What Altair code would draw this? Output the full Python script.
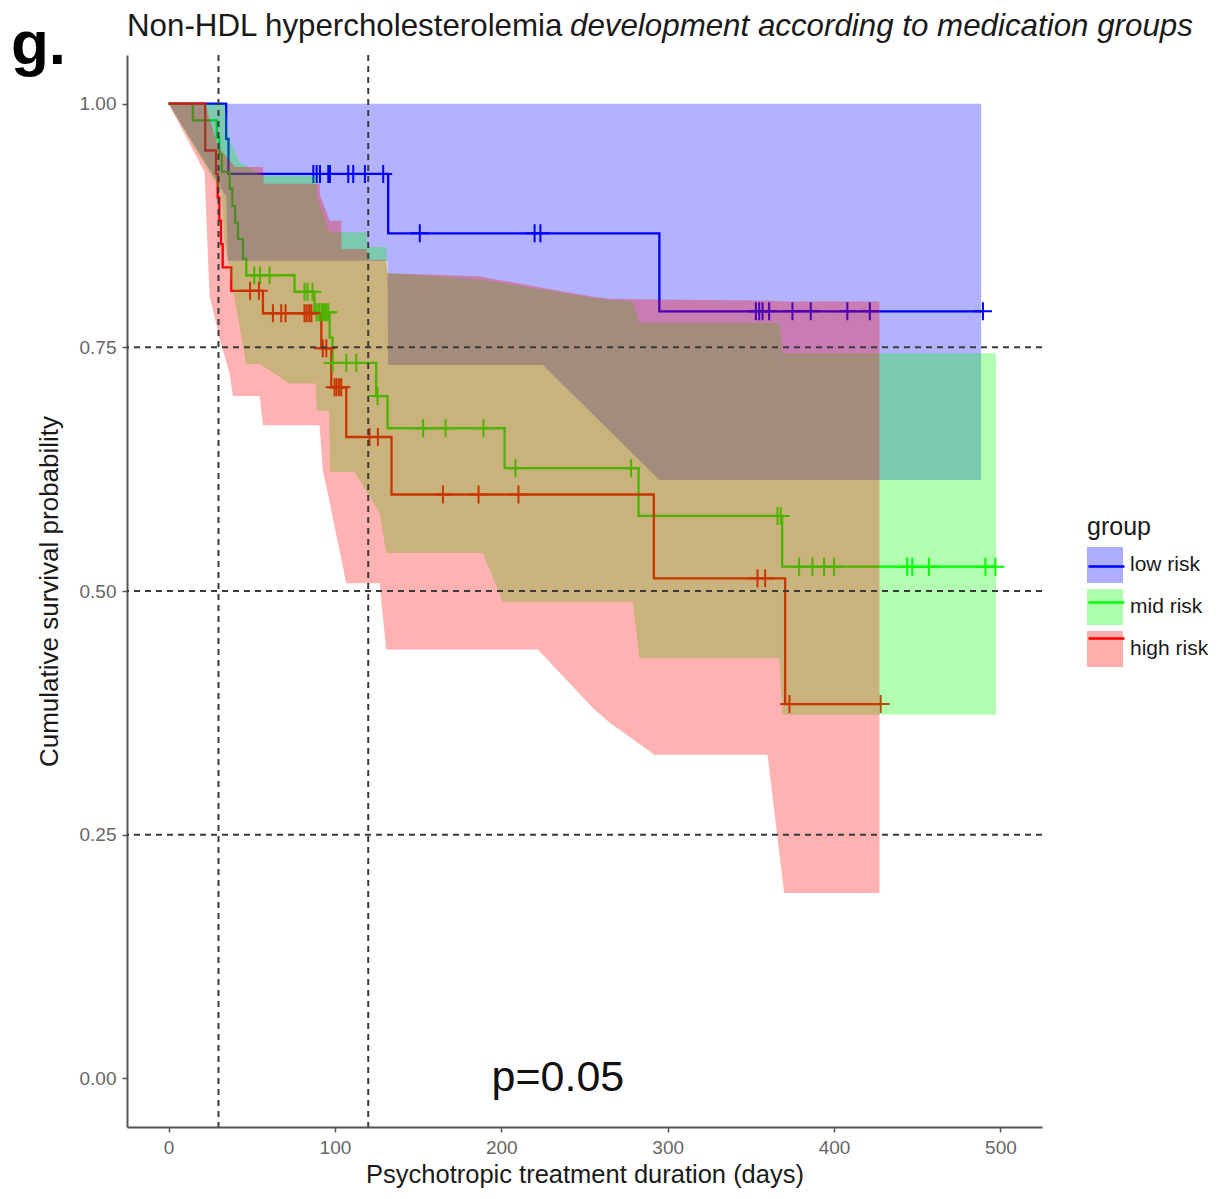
import altair as alt
import pandas as pd

FONT = "Liberation Sans"
GROUPS = ["low risk", "mid risk", "high risk"]
COLORS = ["#0000FF", "#00FF00", "#FF0000"]

X_TICKS = [0, 100, 200, 300, 400, 500]
Y_TICKS = [0.0, 0.25, 0.5, 0.75, 1.0]
V_REF = [30, 120]
H_REF = [0.25, 0.5, 0.75]

# ---- Kaplan-Meier step curves (time of event, survival after it) ----
low_t = [0, 34.6, 36, 132, 295]
low_s = [1.0, 0.964, 0.928, 0.867, 0.787]
low_end = 489.5
low_cens = [87, 89, 91, 96, 97, 108, 111, 118, 129, 151, 220, 223.5,
            353, 355, 357, 361, 375, 386, 408, 421.5, 489.5]

mid_t = [0, 14.6, 29, 30.5, 32, 36.7, 38.3, 40, 41.7, 44.7, 46.7, 75.7,
         87.7, 96.8, 98.5, 124.8, 131.6, 202, 282.5, 368.8]
mid_s = [1.0, 0.983, 0.965, 0.948, 0.930, 0.913, 0.895, 0.878, 0.861,
         0.841, 0.824, 0.807, 0.786, 0.760, 0.734, 0.700, 0.667, 0.626,
         0.577, 0.525]
mid_end = 497
mid_cens = [51.5, 55, 60.7, 81.7, 83.5, 86.5, 89, 90.5, 92, 93, 94, 95, 96,
            98.6, 106.8, 112.8, 125.6, 153, 166.5, 189.3, 208.5, 278, 366,
            368, 379, 387, 394, 400, 444, 447, 457, 491, 497]

high_t = [0, 22, 28.5, 29.5, 30.5, 31.5, 32.5, 37.7, 56.7, 91.8, 97.8,
          106.8, 134, 291.7, 370.6]
high_s = [1.0, 0.952, 0.928, 0.904, 0.880, 0.856, 0.832, 0.808, 0.785,
          0.749, 0.709, 0.658, 0.599, 0.513, 0.384]
high_end = 428
high_cens = [49, 54.3, 62.7, 67.7, 70.3, 81.7, 83, 84.5, 85.8, 92.7, 94.8,
             99.8, 101, 102.5, 103.8, 120.8, 125.8, 164.9, 186.3, 210.3,
             354, 358.6, 373.2, 428]

# ---- confidence bands (x, lower, upper) ----
low_bx = [0, 34.6, 35.6, 131.5, 132, 225, 295, 488.4]
low_lo = [1.0, 0.905, 0.839, 0.839, 0.732, 0.732, 0.614, 0.614]
low_hi = [1.0, 1.0, 1.0, 1.0, 1.0, 1.0, 1.0, 1.0]

mid_bx = [0, 31.7, 33.5, 34, 36, 42.7, 46.7, 54.7, 56.7, 72.7, 88.5, 89,
          96.5, 97, 111.8, 119, 119.5, 126.8, 130.8, 131.5, 186, 188.9,
          200.9, 259, 279, 283, 367, 369, 497.4]
mid_lo = [1.0, 0.909, 0.86, 0.852, 0.836, 0.771, 0.733, 0.733, 0.731, 0.713,
          0.713, 0.685, 0.685, 0.622, 0.622, 0.602, 0.601, 0.58, 0.539,
          0.539, 0.539, 0.539, 0.489, 0.489, 0.489, 0.431, 0.431, 0.373,
          0.373]
mid_hi = [1.0, 1.0, 1.0, 1.0, 0.965, 0.94, 0.936, 0.928, 0.926, 0.926,
          0.926, 0.906, 0.869, 0.868, 0.868, 0.868, 0.853, 0.853, 0.853,
          0.826, 0.82, 0.819, 0.816, 0.80, 0.797, 0.775, 0.775, 0.744,
          0.744]

high_bx = [0, 21.6, 22, 24.6, 29.6, 30, 36.7, 38.6, 40, 54.7, 56.7, 57.2,
           90.7, 91, 92.7, 96.8, 98.8, 103.8, 104, 106.8, 119, 120, 126.8,
           130.8, 131.5, 186, 222, 255, 265, 292, 360, 370, 427.3]
high_lo = [1.0, 0.93, 0.913, 0.803, 0.767, 0.763, 0.723, 0.70, 0.70, 0.70,
           0.67, 0.67, 0.67, 0.663, 0.624, 0.591, 0.574, 0.533, 0.531, 0.508,
           0.508, 0.508, 0.508, 0.44, 0.44, 0.44, 0.44, 0.38, 0.365, 0.332,
           0.332, 0.19, 0.19]
high_hi = [1.0, 1.0, 1.0, 0.985, 0.957, 0.955, 0.942, 0.938, 0.935, 0.935,
           0.935, 0.918, 0.918, 0.906, 0.899, 0.88, 0.88, 0.88, 0.851, 0.851,
           0.851, 0.84, 0.84, 0.84, 0.826, 0.823, 0.812, 0.802, 0.80, 0.799,
           0.798, 0.797, 0.797]

P_TEXT = "p=0.05"
P_X, P_Y = 234, 0.0


def step_at(times, surv, t):
    v = surv[0]
    for ti, si in zip(times, surv):
        if ti <= t:
            v = si
    return v


curves = {
    "low risk": (low_t, low_s, low_end, low_cens, low_bx, low_lo, low_hi),
    "mid risk": (mid_t, mid_s, mid_end, mid_cens, mid_bx, mid_lo, mid_hi),
    "high risk": (high_t, high_s, high_end, high_cens, high_bx, high_lo, high_hi),
}

line_rows, cens_rows, band_rows = [], [], []
for g, (t, s, end, cens, bx, blo, bhi) in curves.items():
    for ti, si in zip(t, s):
        line_rows.append({"grp": g, "x": ti, "y": si})
    line_rows.append({"grp": g, "x": end, "y": s[-1]})
    for c in cens:
        cens_rows.append({"grp": g, "x": c, "y": step_at(t, s, c)})
    for xi, lo, hi in zip(bx, blo, bhi):
        band_rows.append({"group": g, "x": xi, "lo": lo, "hi": hi})

lines_df = pd.DataFrame(line_rows)
cens_df = pd.DataFrame(cens_rows)
band_df = pd.DataFrame(band_rows)

xscale = alt.Scale(domain=[-25, 525], nice=False, zero=False)
yscale = alt.Scale(domain=[-0.05, 1.05], nice=False, zero=False)

xaxis = alt.Axis(values=X_TICKS, title="Psychotropic treatment duration (days)",
                 grid=False, domainColor="#555555", domainWidth=2,
                 tickColor="#555555", tickWidth=1.5, tickSize=5,
                 labelColor="#666666", labelFontSize=19, labelFont=FONT,
                 labelPadding=6, labelFlush=False, titleFont=FONT,
                 titleFontSize=25.5, titleFontWeight="normal",
                 titleColor="#1a1a1a", titlePadding=5)
yaxis = alt.Axis(values=Y_TICKS, format=".2f",
                 title="Cumulative survival probability",
                 grid=False, domainColor="#555555", domainWidth=2,
                 tickColor="#555555", tickWidth=1.5, tickSize=5,
                 labelColor="#666666", labelFontSize=19, labelFont=FONT,
                 labelPadding=6, labelFlush=False, titleFont=FONT,
                 titleFontSize=26, titleFontWeight="normal",
                 titleColor="#1a1a1a", titlePadding=17)

X = lambda f: alt.X(f, scale=xscale, axis=xaxis)
Y = lambda f: alt.Y(f, scale=yscale, axis=yaxis)

LEG_X, LEG_Y = 960, 460
fill_legend = alt.Legend(title="group", orient="none", legendX=LEG_X, legendY=LEG_Y,
                         symbolType="square", symbolSize=1296, symbolOpacity=0.32,
                         symbolStrokeWidth=0, titleFont=FONT, titleFontSize=25,
                         titleFontWeight="normal", titleColor="#1a1a1a",
                         titlePadding=7, labelFont=FONT, labelFontSize=21,
                         labelColor="#1a1a1a", labelOffset=7, rowPadding=6,
                         padding=0)
stroke_legend = alt.Legend(title="group", orient="none", legendX=LEG_X, legendY=LEG_Y,
                           symbolType="stroke", symbolSize=1296,
                           symbolStrokeWidth=2.5, titleFont=FONT, titleFontSize=25,
                           titleFontWeight="normal", titleOpacity=0,
                           titlePadding=7, labelFont=FONT, labelFontSize=21,
                           labelExpr="''", labelOffset=7, rowPadding=6,
                           padding=0)

fill_enc = alt.Fill("group:N", sort=GROUPS, scale=alt.Scale(range=COLORS),
                    legend=fill_legend)
stroke_enc = alt.Stroke("grp:N", sort=GROUPS, scale=alt.Scale(range=COLORS),
                        legend=stroke_legend)

line_layer = alt.Chart(lines_df).mark_line(interpolate="step-after", strokeWidth=2.3).encode(
    x=X("x:Q"), y=Y("y:Q"), stroke=stroke_enc)

cens_layer = alt.Chart(cens_df).mark_point(
    shape="M0,-1V1M-1,0H1", size=324, strokeWidth=2, filled=False, opacity=1
).encode(x=X("x:Q"), y=Y("y:Q"), stroke=stroke_enc)

band_layers = []
for g in GROUPS:
    band_layers.append(
        alt.Chart(band_df[band_df["group"] == g]).mark_area(
            fillOpacity=0.3, interpolate="linear", strokeWidth=0
        ).encode(x=X("x:Q"), y=Y("lo:Q"), y2="hi:Q", fill=fill_enc)
    )

vref = alt.Chart(pd.DataFrame({"x": V_REF})).mark_rule(
    strokeDash=[6, 5], color="#3a3a3a", strokeWidth=2
).encode(x=X("x:Q"))
href = alt.Chart(pd.DataFrame({"y": H_REF})).mark_rule(
    strokeDash=[6, 5], color="#3a3a3a", strokeWidth=2
).encode(y=Y("y:Q"))

ptext = alt.Chart(pd.DataFrame({"x": [P_X], "y": [P_Y], "t": [P_TEXT]})).mark_text(
    font=FONT, fontSize=43, color="#111111", baseline="middle", align="center"
).encode(x=X("x:Q"), y=Y("y:Q"), text="t:N")

title1 = alt.Chart(pd.DataFrame({"t": ["Non-HDL hypercholesterolemia"]})).mark_text(
    font=FONT, fontSize=31.3, color="#1a1a1a", align="left", baseline="alphabetic"
).encode(x=alt.value(0), y=alt.value(-19), text="t:N")
title2 = alt.Chart(pd.DataFrame({"t": ["development according to medication groups"]})).mark_text(
    font=FONT, fontSize=31.3, fontStyle="italic", color="#1a1a1a", align="left",
    baseline="alphabetic"
).encode(x=alt.value(443), y=alt.value(-19), text="t:N")
panel = alt.Chart(pd.DataFrame({"t": ["g."]})).mark_text(
    font=FONT, fontSize=62, fontWeight="bold", color="#000000", align="left",
    baseline="alphabetic"
).encode(x=alt.value(-116), y=alt.value(9), text="t:N")

chart = alt.layer(
    line_layer, cens_layer, *band_layers, vref, href, ptext, title1, title2, panel
).properties(
    width=915, height=1072,
    padding={"left": 119, "top": 47, "right": 170, "bottom": 64},
    autosize=alt.AutoSizeParams(type="none"),
).configure_view(stroke=None)

chart.save("out.html", embed_options={"renderer": "svg", "actions": False})
